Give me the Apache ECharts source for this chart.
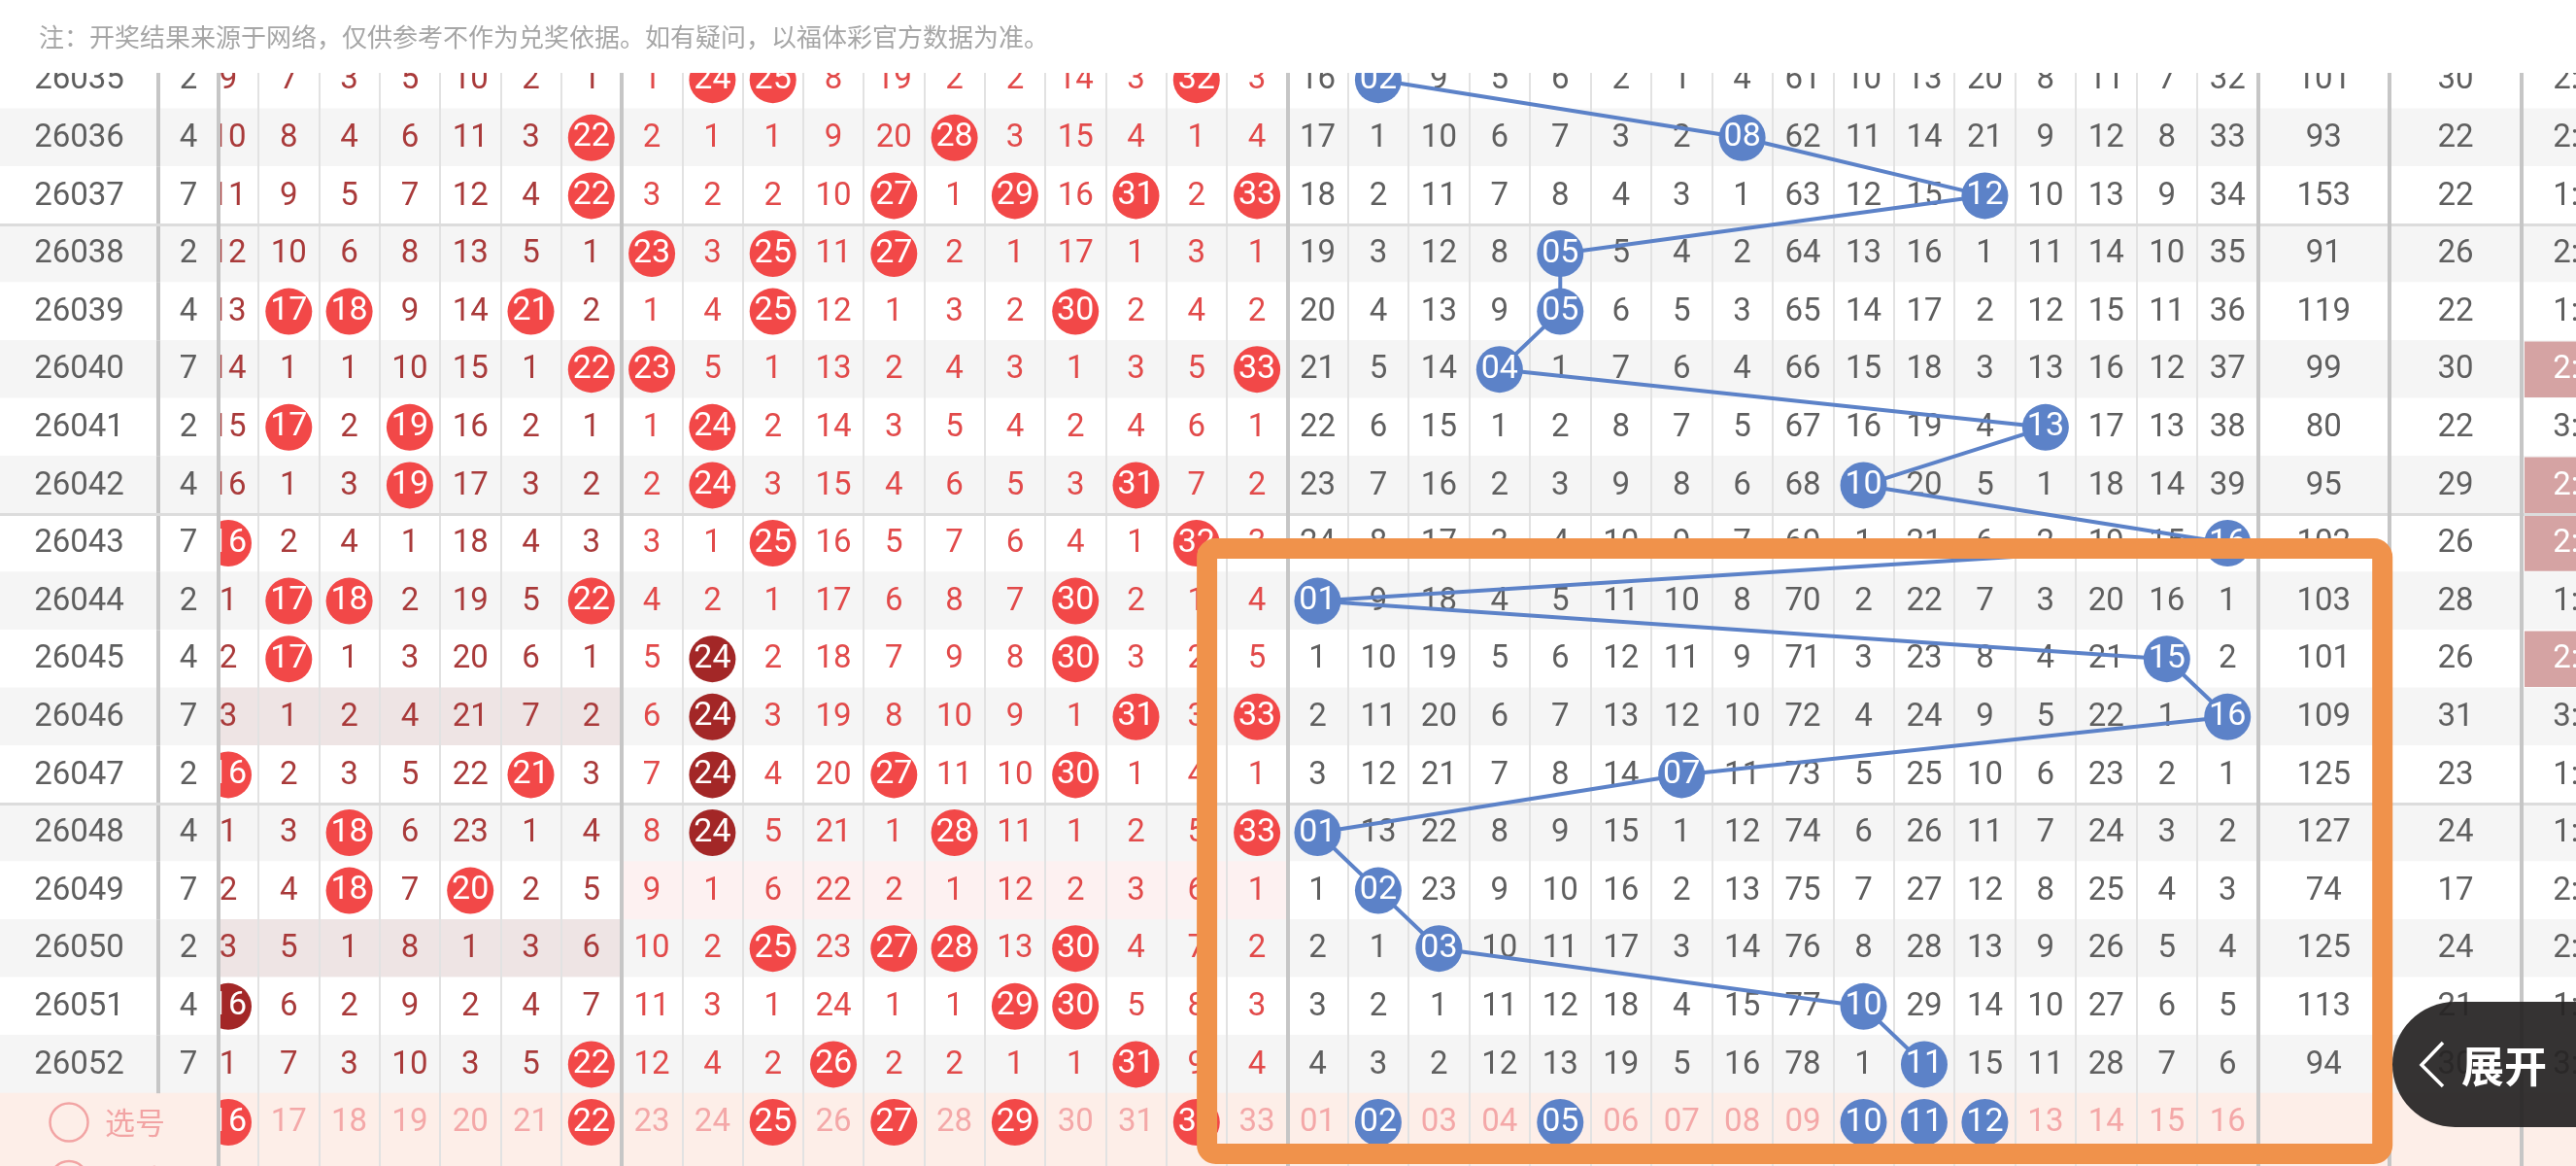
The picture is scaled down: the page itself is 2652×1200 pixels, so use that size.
<!DOCTYPE html>
<html>
<head>
<meta charset="utf-8">
<script src="https://cdn.jsdelivr.net/npm/echarts@6/dist/echarts.min.js"></script>
<style>html,body{margin:0;padding:0;background:#fff}#c{width:2652px;height:1200px}</style>
</head>
<body>
<div id="c"></div>
<script>
// ---------------- DATA ----------------
const noteText = '注：开奖结果来源于网络，仅供参考不作为兑奖依据。如有疑问，以福体彩官方数据为准。';
const periods = ['26035','26036','26037','26038','26039','26040','26041','26042','26043',
                 '26044','26045','26046','26047','26048','26049','26050','26051','26052'];
const extraRows = ['选号', '机选'];
const digitCol = [2,4,7,2,4,7,2,4,7,2,4,7,2,4,7,2,4,7];
// visible red columns (01-15 are scrolled under the frozen columns)
const redCols = [16,17,18,19,20,21,22,23,24,25,26,27,28,29,30,31,32,33];
// omission counts per period for red 16..33 (0 = drawn this period)
const redMiss = [
  [9,7,3,5,10,2,1,1,0,0,8,19,2,2,14,3,0,3],
  [10,8,4,6,11,3,0,2,1,1,9,20,0,3,15,4,1,4],
  [11,9,5,7,12,4,0,3,2,2,10,0,1,0,16,0,2,0],
  [12,10,6,8,13,5,1,0,3,0,11,0,2,1,17,1,3,1],
  [13,0,0,9,14,0,2,1,4,0,12,1,3,2,0,2,4,2],
  [14,1,1,10,15,1,0,0,5,1,13,2,4,3,1,3,5,0],
  [15,0,2,0,16,2,1,1,0,2,14,3,5,4,2,4,6,1],
  [16,1,3,0,17,3,2,2,0,3,15,4,6,5,3,0,7,2],
  [0,2,4,1,18,4,3,3,1,0,16,5,7,6,4,1,0,3],
  [1,0,0,2,19,5,0,4,2,1,17,6,8,7,0,2,1,4],
  [2,0,1,3,20,6,1,5,0,2,18,7,9,8,0,3,2,5],
  [3,1,2,4,21,7,2,6,0,3,19,8,10,9,1,0,3,0],
  [0,2,3,5,22,0,3,7,0,4,20,0,11,10,0,1,4,1],
  [1,3,0,6,23,1,4,8,0,5,21,1,0,11,1,2,5,0],
  [2,4,0,7,0,2,5,9,1,6,22,2,1,12,2,3,6,1],
  [3,5,1,8,1,3,6,10,2,0,23,0,0,13,0,4,7,2],
  [0,6,2,9,2,4,7,11,3,1,24,1,1,0,0,5,8,3],
  [1,7,3,10,3,5,0,12,4,2,0,2,2,1,1,0,9,4]
];
const darkBalls = [['26045',24],['26046',24],['26047',24],['26048',24],['26051',16]];
const blueCols = [1,2,3,4,5,6,7,8,9,10,11,12,13,14,15,16];
const blueMiss = [
  [16,0,9,5,6,2,1,4,61,10,13,20,8,11,7,32],
  [17,1,10,6,7,3,2,0,62,11,14,21,9,12,8,33],
  [18,2,11,7,8,4,3,1,63,12,15,0,10,13,9,34],
  [19,3,12,8,0,5,4,2,64,13,16,1,11,14,10,35],
  [20,4,13,9,0,6,5,3,65,14,17,2,12,15,11,36],
  [21,5,14,0,1,7,6,4,66,15,18,3,13,16,12,37],
  [22,6,15,1,2,8,7,5,67,16,19,4,0,17,13,38],
  [23,7,16,2,3,9,8,6,68,0,20,5,1,18,14,39],
  [24,8,17,3,4,10,9,7,69,1,21,6,2,19,15,0],
  [0,9,18,4,5,11,10,8,70,2,22,7,3,20,16,1],
  [1,10,19,5,6,12,11,9,71,3,23,8,4,21,0,2],
  [2,11,20,6,7,13,12,10,72,4,24,9,5,22,1,0],
  [3,12,21,7,8,14,0,11,73,5,25,10,6,23,2,1],
  [0,13,22,8,9,15,1,12,74,6,26,11,7,24,3,2],
  [1,0,23,9,10,16,2,13,75,7,27,12,8,25,4,3],
  [2,1,0,10,11,17,3,14,76,8,28,13,9,26,5,4],
  [3,2,1,11,12,18,4,15,77,0,29,14,10,27,6,5],
  [4,3,2,12,13,19,5,16,78,1,0,15,11,28,7,6]
];
const blueDrawn = [2,8,12,5,5,4,13,10,16,1,15,16,7,1,2,3,10,11];
const sumVals  = [101,93,153,91,119,99,80,95,102,103,101,109,125,127,74,125,113,94];
const spanVals = [30,22,22,26,22,30,22,29,26,28,26,31,23,24,17,24,21,30];
const zoneRatio = ['2:1:3','2:3:1','1:1:4','2:1:3','1:3:2','2:2:2','3:2:1','2:2:2','2:2:2',
                   '1:4:1','2:2:2','3:0:3','1:2:3','1:2:3','2:4:0','2:0:4','1:3:2','3:1:2'];
const ratioHighlight = '2:2:2';
const selRed = [16,22,25,27,29,32];
const selBlue = [2,5,10,11,12];

// ---------------- STYLE / LAYOUT ----------------
const ROW_TOP = 52.4, ROW_H = 59.6;
const rowNames = periods.concat(extraRows);
const NP = periods.length;
const FONT = '33px Roboto';
const C = {
  gray: '#f5f5f5', white: '#ffffff', sel: '#fdeee8',
  zoneGray: '#eee4e4', zoneWhite: '#fdf1f1',
  txt: '#5f5f5f', red2: '#a93a3a', red3: '#e24a4a', pink: '#f4a8a8',
  ball: '#f24848', dball: '#a32727', blue: '#5c82c8', ratioHl: '#d5a3a3'
};
const layout = [
  {left: 0,       width: 163,        cols: ['期号'],                          frozen: true},
  {left: 163,     width: 62,         cols: ['尾'],                            frozen: true},
  {left: 203.85,  width: 7 * 62.3,   cols: redCols.slice(0, 7).map(String)},
  {left: 639.95,  width: 11 * 62.3,  cols: redCols.slice(7).map(String)},
  {left: 1325.25, width: 16 * 62.45, cols: blueCols.map(String)},
  {left: 2324.45, width: 135.55,     cols: ['和值']},
  {left: 2460,    width: 136,        cols: ['跨度']},
  {left: 2596,    width: 136,        cols: ['区间比']}
];
const axisLineCfg = [
  {show: false, pos: 'left'}, {show: true, pos: 'right'}, {show: false, pos: 'left'},
  {show: true, pos: 'left'}, {show: true, pos: 'left'}, {show: true, pos: 'left'},
  {show: true, pos: 'left'}, {show: true, pos: 'left'}
];
const thinSplit = [false, false, true, true, true, false, false, false];
const groupStarts = periods.map((p, i) => (i > 0 && Number(p) % 5 === 3) ? i : -1).filter(i => i >= 0);

const pad2 = n => (n < 10 ? '0' : '') + n;
const stripe = i => i >= NP ? C.sel : (i % 2 ? C.gray : C.white);

// ---------------- CELLS ----------------
const cells = layout.map(() => []);
function add(g, x, y, o) { cells[g].push(Object.assign({x: x, y: y}, o)); }

for (let i = 0; i < rowNames.length; i++) {
  const base = stripe(i);
  const isP = i < NP;
  add(0, 0, i, {bg: base, text: isP ? periods[i] : null, color: C.txt,
                selLabel: isP ? null : rowNames[i]});
  add(1, 0, i, {bg: base, text: isP ? String(digitCol[i]) : null, color: C.txt, sep: isP});
  const zr = isP ? zoneRatio[i].split(':').map(Number) : null;
  redCols.forEach((col, k) => {
    const g = col <= 22 ? 2 : 3;
    const x = col <= 22 ? k : k - 7;
    const zoneIdx = col <= 11 ? 0 : (col <= 22 ? 1 : 2);
    const bg = (zr && zr[zoneIdx] === 0) ? (i % 2 ? C.zoneGray : C.zoneWhite) : base;
    const o = {bg: bg};
    if (isP) {
      const m = redMiss[i][k];
      if (m === 0) {
        const dark = darkBalls.some(d => d[0] === periods[i] && d[1] === col);
        o.ball = dark ? C.dball : C.ball; o.text = String(col);
      } else { o.text = String(m); o.color = col <= 22 ? C.red2 : C.red3; }
    } else if (i === NP) {
      if (selRed.indexOf(col) >= 0) { o.ball = C.ball; o.text = String(col); }
      else { o.text = String(col); o.color = C.pink; }
    }
    add(g, x, i, o);
  });
  blueCols.forEach((col, k) => {
    const o = {bg: base};
    if (isP) {
      const m = blueMiss[i][k];
      if (m === 0) { o.ball = C.blue; o.text = pad2(col); }
      else { o.text = String(m); o.color = C.txt; }
    } else if (i === NP) {
      if (selBlue.indexOf(col) >= 0) { o.ball = C.blue; o.text = pad2(col); }
      else { o.text = pad2(col); o.color = C.pink; }
    }
    add(4, k, i, o);
  });
  add(5, 0, i, {bg: base, text: isP ? String(sumVals[i]) : null, color: C.txt});
  add(6, 0, i, {bg: base, text: isP ? String(spanVals[i]) : null, color: C.txt});
  const hl = isP && zoneRatio[i] === ratioHighlight;
  add(7, 0, i, {bg: base, hl: hl, text: isP ? zoneRatio[i] : null, color: hl ? '#ffffff' : C.txt});
}

// ---------------- RENDERERS ----------------
function bgRender(list) {
  return function (params, api) {
    const c = list[params.dataIndex];
    const p = api.coord([api.value(0), api.value(1)]);
    const s = api.size([1, 1]);
    const x0 = p[0] - s[0] / 2, y0 = p[1] - s[1] / 2;
    const ch = [{type: 'rect', shape: {x: x0 - 0.5, y: y0 - 0.5, width: s[0] + 1, height: s[1] + 1},
                 style: {fill: c.bg}}];
    if (c.hl) ch.push({type: 'rect', shape: {x: x0 + 3, y: y0 + 1, width: s[0] - 6, height: s[1] - 2},
                       style: {fill: C.ratioHl}});
    return {type: 'group', children: ch};
  };
}
function textRender(list) {
  return function (params, api) {
    const c = list[params.dataIndex];
    const p = api.coord([api.value(0), api.value(1)]);
    const s = api.size([1, 1]);
    const ch = [];
    if (c.sep) ch.push({type: 'rect', shape: {x: p[0] - s[0] / 2 - 2, y: p[1] - s[1] / 2, width: 4, height: s[1]},
                        style: {fill: '#c6c6c6'}});
    if (c.selLabel) {
      const left = p[0] - s[0] / 2;
      ch.push({type: 'circle', shape: {cx: left + 71, cy: p[1], r: 19.5},
               style: {fill: 'none', stroke: '#f2a4a4', lineWidth: 2.5}});
      ch.push({type: 'text', x: left + 139, y: p[1],
               style: {text: c.selLabel, fill: '#f2a4a4', font: '31px "Noto Sans CJK SC"',
                       align: 'center', verticalAlign: 'middle'}});
    }
    if (c.text != null && !c.ball) {
      ch.push({type: 'text', x: p[0], y: p[1] + 1,
               style: {text: c.text, fill: c.color, font: FONT, align: 'center', verticalAlign: 'middle'}});
    }
    return {type: 'group', children: ch};
  };
}

// ---------------- OPTION ----------------
const grid = [], xAxis = [], yAxis = [], series = [];
layout.forEach((L, g) => {
  const zAx = L.frozen ? 12 : 2;
  grid.push({left: L.left, top: ROW_TOP, width: L.width, height: rowNames.length * ROW_H,
             containLabel: false, outerBoundsMode: 'none', show: false});
  xAxis.push({gridIndex: g, type: 'category', data: L.cols, boundaryGap: true, z: zAx,
              axisLine: {show: false}, axisTick: {show: false}, axisLabel: {show: false},
              splitLine: {show: thinSplit[g], interval: 0, lineStyle: {color: '#e2e2e2', width: 2}}});
  yAxis.push({gridIndex: g, type: 'category', data: rowNames, inverse: true, boundaryGap: true,
              position: axisLineCfg[g].pos, z: L.frozen ? 12 : 2.5,
              axisLabel: {show: false}, axisTick: {show: false},
              axisLine: {show: axisLineCfg[g].show, lineStyle: {color: '#c6c6c6', width: 4}},
              splitLine: {show: true, interval: function (idx) { return groupStarts.indexOf(idx) >= 0; },
                          lineStyle: {color: '#dcdcdc', width: 3}}});
  const list = cells[g];
  const xy = list.map(c => [c.x, c.y]);
  series.push({type: 'custom', xAxisIndex: g, yAxisIndex: g, z: L.frozen ? 10 : 1, silent: true,
               encode: {x: 0, y: 1}, data: xy, renderItem: bgRender(list)});
  series.push({type: 'custom', xAxisIndex: g, yAxisIndex: g, z: L.frozen ? 11 : 3, silent: true,
               encode: {x: 0, y: 1}, data: xy, renderItem: textRender(list)});
  const balls = list.filter(c => c.ball);
  if (balls.length) {
    series.push({type: 'scatter', xAxisIndex: g, yAxisIndex: g, z: 5, silent: true,
                 symbol: 'circle', symbolSize: 48,
                 itemStyle: {opacity: 1},
                 data: balls.map(c => ({name: c.text, value: [c.x, c.y], itemStyle: {color: c.ball, opacity: 1}})),
                 label: {show: true, position: 'inside', formatter: '{b}', color: '#ffffff',
                         fontSize: 34, fontFamily: 'Roboto'}});
  }
});
// blue trend line
series.push({type: 'line', xAxisIndex: 4, yAxisIndex: 4, z: 4, silent: true, symbol: 'none',
             data: blueDrawn.map((b, i) => [blueCols.indexOf(b), i]),
             lineStyle: {color: C.blue, width: 4, opacity: 1}});

const chart = echarts.init(document.getElementById('c'), null, {width: 2652, height: 1200});
chart.setOption({backgroundColor: '#ffffff', animation: false, grid: grid, xAxis: xAxis, yAxis: yAxis, series: series});

// annotations positioned from the axes
const a = chart.convertToPixel({gridIndex: 3}, [redCols.length - 8, periods.indexOf('26043')]);
const b = chart.convertToPixel({gridIndex: 5}, [0, NP]);
const ox = a[0] - 51.5, oy = a[1] + 5.5;
chart.setOption({graphic: [
  {type: 'rect', z: 100, silent: true, shape: {x: 0, y: 0, width: 2652, height: 75}, style: {fill: '#ffffff'}},
  {type: 'text', z: 101, silent: true, x: 40, y: 38,
   style: {text: noteText, fill: '#a6a6a6', font: '26px "Noto Sans CJK SC"', align: 'left', verticalAlign: 'middle'}},
  {type: 'rect', z: 50, silent: true,
   shape: {x: ox, y: oy, width: b[0] + 60.5 - ox, height: b[1] + 32.5 - oy, r: 9},
   style: {fill: 'none', stroke: '#f0924b', lineWidth: 21}},
  {type: 'rect', z: 60, silent: true, shape: {x: 2463, y: 1031, width: 260, height: 129, r: 64.5},
   style: {fill: 'rgba(38,36,36,0.93)'}},
  {type: 'polyline', z: 61, silent: true, shape: {points: [[2515, 1073], [2493, 1096], [2515, 1118]]},
   style: {stroke: '#ffffff', lineWidth: 3.5, fill: 'none'}},
  {type: 'text', z: 61, silent: true, x: 2534, y: 1097,
   style: {text: '展开', fill: '#ffffff', font: 'bold 44px "Noto Sans CJK SC"', align: 'left', verticalAlign: 'middle'}}
]});
</script>
</body>
</html>
